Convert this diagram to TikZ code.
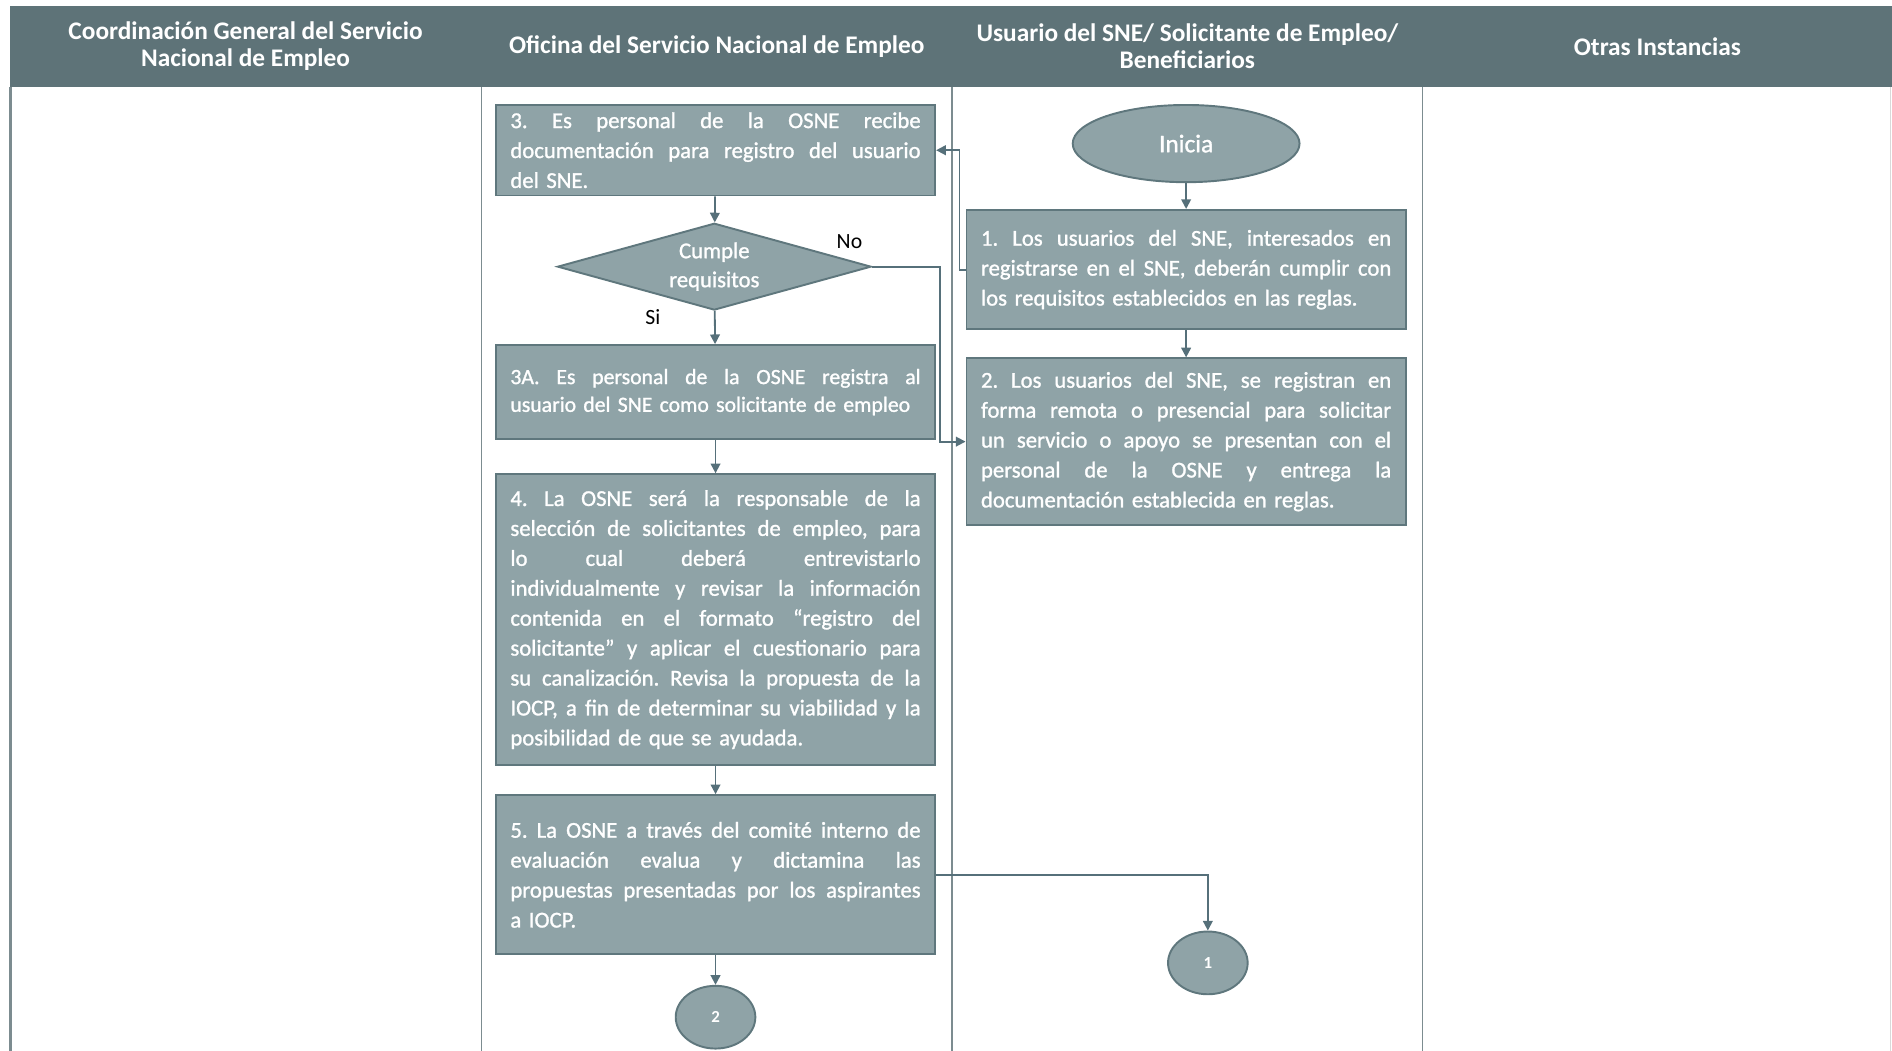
\documentclass[tikz,border=0pt]{standalone}
\usepackage{fontspec}
\setmainfont{Carlito}
\newfontfamily\boxfont{Carlito}[FakeBold=1.2]
\usetikzlibrary{arrows.meta,shapes.geometric,calc}
\definecolor{hdr}{HTML}{5E7378}
\definecolor{boxf}{HTML}{8FA3A7}
\definecolor{boxd}{HTML}{5F777D}
\definecolor{lane}{HTML}{7C8C90}
\definecolor{lnk}{HTML}{56707A}
\newcommand{\jl}[1]{{\spaceskip=0.3em plus 2em minus 0.05em\xspaceskip=0.35em plus 2em minus 0.05em\makebox[170pt][s]{#1}}\\}
\tikzset{
  hdrtext/.style={text=white, font=\fontsize{10.5}{11.2}\selectfont\bfseries, align=center, inner sep=0pt},
  proc/.style={draw=boxd, fill=boxf, line width=0.8pt, text=white, minimum width=182pt, inner sep=0pt,
    text width=170pt, align=left, font=\boxfont\fontsize{9.4}{12.4}\selectfont},
  decis/.style={diamond, aspect=3.6, draw=boxd, fill=boxf, line width=0.8pt, text=white, inner sep=0pt,
    minimum width=130pt, minimum height=36pt, align=center, font=\boxfont\fontsize{9.4}{12}\selectfont},
  term/.style={ellipse, draw=boxd, fill=boxf, line width=0.8pt, text=white, inner sep=0pt,
    font=\boxfont\fontsize{10.5}{12}\selectfont},
  conn/.style={ellipse, draw=boxd, fill=boxf, line width=0.8pt, text=white, inner sep=0pt,
    minimum width=33pt, minimum height=26pt, font=\fontsize{7}{8}\selectfont\bfseries},
  lbl/.style={text=black, inner sep=0pt, font=\fontsize{9}{11}\selectfont},
  arr/.style={draw=lnk, line width=0.75pt, -{Triangle[length=4pt,width=4pt]}},
  laneln/.style={draw=lane, line width=0.6pt}
}
\begin{document}
\frenchspacing
\begin{tikzpicture}[x=0.5pt,y=-0.5pt]
\useasboundingbox (0,0) rectangle (1568,871);
% header
\fill[hdr] (8,5) rectangle (1568,72);
% lanes
\draw[laneln, line width=1.2pt] (9,72) -- (9,871);
\draw[laneln] (399,72) -- (399,871);
\draw[laneln] (789,72) -- (789,871);
\draw[laneln] (1179,72) -- (1179,871);
\draw[draw=black!15, line width=0.5pt] (1567,72) -- (1567,871);
% header texts
\node[hdrtext] (h1) at (203.5,38.5) {Coordinación General del Servicio\\Nacional de Empleo};
\node[hdrtext] (h2) at (594,38.5) {Oficina del Servicio Nacional de Empleo};
\node[hdrtext] (h3) at (984,38.5) {Usuario del SNE/ Solicitante de Empleo/\\Beneficiarios};
\node[hdrtext] (h4) at (1373.5,38.5) {Otras Instancias};
% nodes
\node[term, minimum width=94pt, minimum height=32pt] (ini) at (983,119) {Inicia};
\node[proc, minimum height=49.5pt] (b1) at (983,223.5) {%
\jl{1. Los usuarios del SNE, interesados en}
\jl{registrarse en el SNE, deberán cumplir con}
los requisitos establecidos en las reglas.};
\node[proc, minimum height=69pt] (b2) at (983,366) {%
\jl{2. Los usuarios del SNE, se registran en}
\jl{forma remota o presencial para solicitar}
\jl{un servicio o apoyo se presentan con el}
\jl{personal de la OSNE y entrega la}
documentación establecida en reglas.};
\node[proc, minimum height=37.5pt] (b3) at (593,124.5) {%
\jl{3. Es personal de la OSNE recibe}
\jl{documentación para registro del usuario}
del SNE.};
\node[decis] (dia) at (592,221) {Cumple\\requisitos};
\node[proc, minimum height=39pt, font=\boxfont\fontsize{9}{11.5}\selectfont] (b3a) at (593,325) {%
\jl{3A. Es personal de la OSNE registra al}
usuario del SNE como solicitante de empleo};
\node[proc, minimum height=120.5pt] (b4) at (593,513.5) {%
\jl{4. La OSNE será la responsable de la}
\jl{selección de solicitantes de empleo, para}
\jl{lo cual deberá entrevistarlo}
\jl{individualmente y revisar la información}
\jl{contenida en el formato “registro del}
\jl{solicitante” y aplicar el cuestionario para}
\jl{su canalización. Revisa la propuesta de la}
\jl{IOCP, a fin de determinar su viabilidad y la}
posibilidad de que se ayudada.};
\node[proc, minimum height=66pt] (b5) at (593,725) {%
\jl{5. La OSNE a través del comité interno de}
\jl{evaluación evalua y dictamina las}
\jl{propuestas presentadas por los aspirantes}
a IOCP.};
\node[conn] (c2) at (593,843) {2};
\node[conn] (c1) at (1001,798) {1};
\node[lbl] (no) at (704,200) {No};
\node[lbl] (si) at (541,263) {Si};
% connectors
\draw[arr] (ini) -- (b1);
\draw[arr] (b1) -- (b2);
\draw[arr] (b1.west) -- ++(-5,0) |- (b3.east);
\draw[arr] (b3) -- (dia);
\draw[arr] (dia) -- (b3a);
\draw[arr] (dia.east) -- ++(56,0) |- (b2.west);
\draw[arr] (b3a) -- (b4);
\draw[arr] (b4) -- (b5);
\draw[arr] (b5) -- (c2);
\draw[arr] (b5.east) -| (c1.north);
\end{tikzpicture}
\end{document}
